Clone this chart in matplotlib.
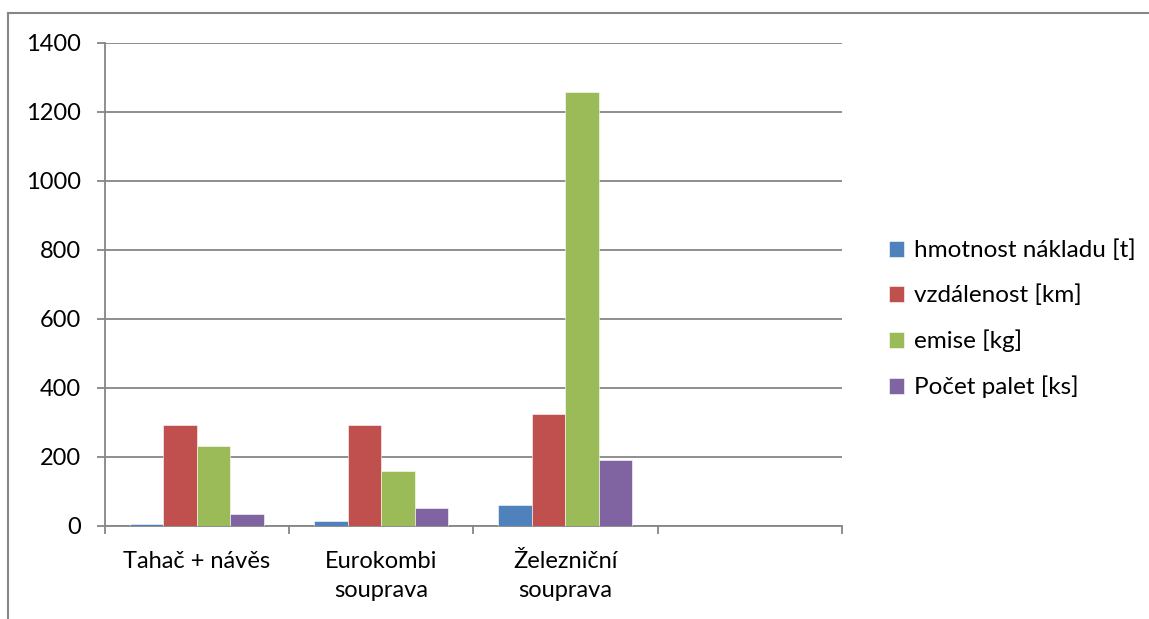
import matplotlib.pyplot as plt
import numpy as np
from matplotlib.lines import Line2D

plt.rcParams['font.family'] = ['Lato', 'DejaVu Sans']

categories = ['Tahač + návěs', 'Eurokombi\nsouprava', 'Železniční\nsouprava', '']
series = ['hmotnost nákladu [t]', 'vzdálenost [km]', 'emise [kg]', 'Počet palet [ks]']
hmotnost = [6, 13, 59, np.nan]
vzdalenost = [292, 292, 323, np.nan]
emise = [231, 157, 1258, np.nan]
palety = [33, 52, 190, np.nan]
colors = ['#4F81BD', '#C0504D', '#9BBB59', '#8064A2']

values = [hmotnost, vzdalenost, emise, palety]

fig = plt.figure(figsize=(11.49, 6.19), dpi=100)
ax = fig.add_axes([104.5 / 1149, 1 - 525.6 / 619, (842 - 104.5) / 1149, (525.6 - 42.7) / 619])

# outer chart border (only top and left visible in the crop)
fig.add_artist(Line2D([8 / 1149, 8 / 1149], [0, 1 - 13 / 619], transform=fig.transFigure,
                      color='#868686', lw=1.5))
fig.add_artist(Line2D([8 / 1149, 1], [1 - 13 / 619, 1 - 13 / 619], transform=fig.transFigure,
                      color='#868686', lw=1.5))

x = np.arange(len(categories))
w = 1 / 5.5
for i, (vals, c, name) in enumerate(zip(values, colors, series)):
    ax.bar(x - 1.5 * w + i * w, vals, width=w, color=c, label=name,
           edgecolor='white', linewidth=0.4, zorder=3)

ax.set_xlim(-0.5, 3.5)
ax.set_ylim(0, 1400)
ax.set_yticks(range(0, 1401, 200))
ax.grid(axis='y', color='#868686', lw=1.3, zorder=0)

ax.set_xticks(x)
ax.set_xticklabels(categories, fontsize=17, linespacing=1.5)
ax.set_xticks(np.arange(-0.5, 4, 1), minor=True)
ax.tick_params(axis='x', which='major', length=0, pad=18)
ax.tick_params(axis='x', which='minor', length=6, width=1.3, color='#868686', direction='out')
ax.tick_params(axis='y', length=6, width=1.3, color='#868686', labelsize=17, pad=11)

for s in ['top', 'right']:
    ax.spines[s].set_visible(False)
for s in ['left', 'bottom']:
    ax.spines[s].set_color('#868686')
    ax.spines[s].set_linewidth(1.3)

leg = fig.legend(loc='upper left', bbox_to_anchor=(879 / 1149, 1 - 230 / 619), frameon=False,
                 fontsize=17.5, handlelength=0.62, handleheight=0.62, handletextpad=0.4,
                 labelspacing=0.96, borderaxespad=0)

fig.savefig('out.png', dpi=100)
